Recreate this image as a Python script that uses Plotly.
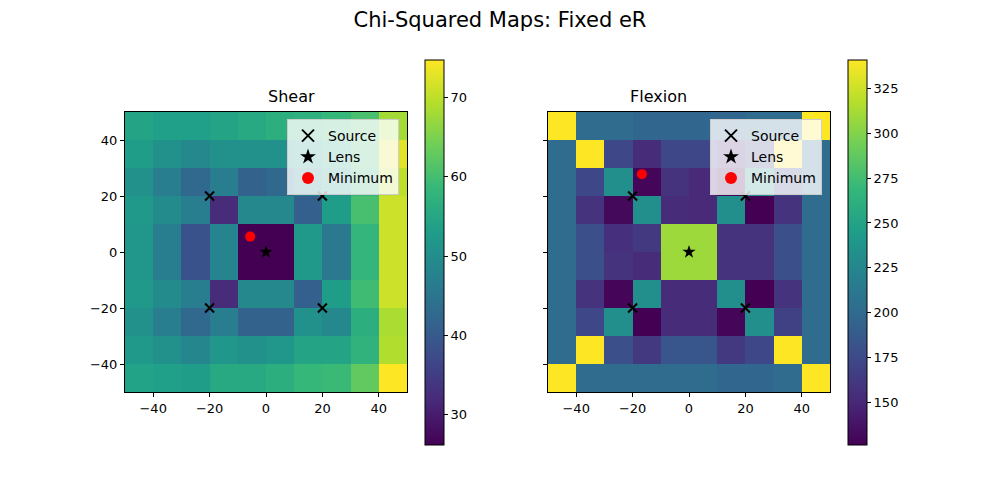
import plotly.graph_objects as go

# grid cell centres
x_centers = [-45, -35, -25, -15, -5, 5, 15, 25, 35, 45]
y_centers = [45, 35, 25, 15, 5, -5, -15, -25, -35, -45]  # rows listed top to bottom

# chi-squared values, shear
shear_chi2 = [
    [54.5, 53.5, 53.5, 54.5, 55.5, 56.5, 57.0, 58.5, 60.5, 68.0],
    [53.0, 50.5, 49.0, 50.5, 50.5, 50.5, 51.5, 54.5, 59.5, 72.5],
    [50.5, 46.8, 42.5, 46.8, 41.5, 42.5, 48.0, 51.5, 58.0, 70.0],
    [52.0, 49.5, 46.8, 32.3, 49.0, 49.0, 41.0, 53.0, 60.3, 71.0],
    [51.6, 46.8, 38.6, 48.2, 26.2, 26.2, 52.0, 45.8, 58.0, 71.0],
    [51.6, 46.8, 38.6, 48.2, 26.2, 26.2, 52.0, 45.8, 58.0, 71.0],
    [52.0, 49.5, 46.8, 32.3, 49.0, 49.0, 41.0, 53.0, 59.5, 71.0],
    [50.5, 46.8, 42.5, 46.8, 41.5, 41.5, 50.5, 49.0, 56.5, 68.5],
    [52.0, 50.5, 48.7, 51.6, 50.5, 51.6, 54.5, 54.5, 57.5, 69.0],
    [54.0, 53.5, 53.0, 55.5, 55.5, 56.5, 58.5, 59.0, 62.7, 74.7],
]

# chi-squared values, flexion
flexion_chi2 = [
    [341, 201, 201, 197, 197, 197, 197, 201, 201, 341],
    [201, 341, 173, 153, 173, 173, 153, 173, 341, 201],
    [201, 173, 233, 129, 158, 151, 129, 233, 173, 201],
    [201, 158, 131, 233, 153, 151, 233, 126, 158, 201],
    [201, 179, 155, 162, 309, 309, 158, 158, 179, 201],
    [201, 179, 158, 153, 309, 309, 158, 158, 179, 201],
    [201, 158, 129, 233, 153, 153, 233, 126, 158, 201],
    [201, 173, 233, 126, 153, 153, 129, 233, 168, 201],
    [201, 341, 179, 162, 184, 184, 162, 173, 341, 201],
    [341, 201, 201, 201, 201, 201, 197, 197, 201, 341],
]

source_x = [-20, 20, -20, 20]
source_y = [20, 20, -20, -20]
lens_x, lens_y = [0], [0]
shear_min = ([-5.6], [5.5])
flexion_min = ([-16.7], [27.8])

font = "DejaVu Sans"

# page puts the plot 8px in from the top left corner
def px_x(p):
    return (p - 8) / 1000


def px_y(p):
    return 1 - (p - 8) / 500


fig = go.Figure()

panels = [
    ("x", "y", shear_chi2, shear_min, px_x(425), 10, "legend"),
    ("x2", "y2", flexion_chi2, flexion_min, px_x(848), 25, "legend2"),
]

for xa, ya, z, mn, cbx, dt, leg in panels:
    fig.add_trace(go.Heatmap(
        x=x_centers, y=y_centers, z=z, xaxis=xa, yaxis=ya,
        colorscale="Viridis", showscale=True,
        colorbar=dict(x=cbx, xanchor="left", xpad=0, ypad=0,
                      y=px_y(252.5), yanchor="middle", len=385 / 500, lenmode="fraction",
                      thickness=19, outlinewidth=1, outlinecolor="black",
                      tick0=0, dtick=dt, ticks="outside", ticklen=4, tickcolor="black",
                      tickfont=dict(size=13, color="black", family=font)),
        hoverinfo="skip",
    ))
    fig.add_trace(go.Scatter(
        x=source_x, y=source_y, mode="markers", name="Source", xaxis=xa, yaxis=ya, legend=leg,
        marker=dict(symbol="x-thin", size=9, color="black", line=dict(width=2, color="black")),
    ))
    fig.add_trace(go.Scatter(
        x=lens_x, y=lens_y, mode="markers", name="Lens", xaxis=xa, yaxis=ya, legend=leg,
        marker=dict(symbol="star", size=10, color="black"),
    ))
    fig.add_trace(go.Scatter(
        x=mn[0], y=mn[1], mode="markers", name="Minimum", xaxis=xa, yaxis=ya, legend=leg,
        marker=dict(symbol="circle", size=10, color="red"),
    ))

axis_common = dict(range=[-50, 50], tickvals=[-40, -20, 0, 20, 40], ticks="outside", ticklen=4,
                   tickcolor="black", showline=True, linecolor="black", linewidth=1, mirror=True,
                   showgrid=False, zeroline=False,
                   tickfont=dict(size=13, color="black", family=font))

legend_common = dict(bgcolor="rgba(255,255,255,0.8)", bordercolor="#cccccc", borderwidth=1,
                     font=dict(size=14, color="black", family=font), yanchor="top", xanchor="right",
                     y=px_y(119), tracegroupgap=0, itemsizing="constant")

y_dom = [px_y(392), px_y(112)]

fig.update_layout(
    width=1000, height=500,
    margin=dict(l=0, r=0, t=0, b=0),
    paper_bgcolor="white", plot_bgcolor="white",
    font=dict(family=font, color="black"),
    xaxis=dict(domain=[px_x(125), px_x(407)], anchor="y", **axis_common),
    yaxis=dict(domain=y_dom, anchor="x", **axis_common),
    xaxis2=dict(domain=[px_x(548), px_x(830)], anchor="y2", **axis_common),
    yaxis2=dict(domain=y_dom, anchor="x2", showticklabels=False, **axis_common),
    legend=dict(x=px_x(399), **legend_common),
    legend2=dict(x=px_x(822), **legend_common),
    title=dict(text="Chi-Squared Maps: Fixed eR", x=px_x(500), xanchor="center",
               y=px_y(20), yanchor="middle",
               font=dict(size=21, family=font, color="black")),
    annotations=[
        dict(text="Shear", x=px_x(266), y=px_y(97), xref="paper", yref="paper", showarrow=False,
             yanchor="middle", font=dict(size=16, family=font, color="black")),
        dict(text="Flexion", x=px_x(689), y=px_y(97), xref="paper", yref="paper", showarrow=False,
             yanchor="middle", font=dict(size=16, family=font, color="black")),
    ],
)

fig.write_html("out.html")
